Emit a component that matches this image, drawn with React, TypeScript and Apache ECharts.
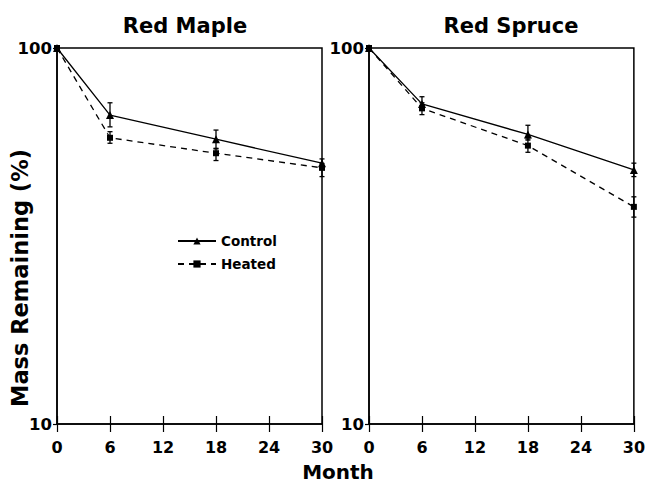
import React, { useEffect, useRef } from "react";
import * as echarts from "echarts";

const months = [0, 6, 18, 30];
const xTicks = [0, 6, 12, 18, 24, 30];
const panelTitles = ["Red Maple", "Red Spruce"];
const seriesNames = ["Control", "Heated"];

const mapleControl = [100, 66.3, 57.2, 49.4];
const mapleControlLow = [100, 61.7, 54.1, 48.0];
const mapleControlHigh = [100, 71.5, 60.5, 50.7];
const mapleHeated = [100, 57.7, 52.5, 48.0];
const mapleHeatedLow = [100, 55.8, 50.2, 45.5];
const mapleHeatedHigh = [100, 59.9, 53.9, 49.3];

const spruceControl = [100, 71.0, 58.9, 47.4];
const spruceControlLow = [100, 68.4, 56.9, 45.5];
const spruceControlHigh = [100, 74.2, 62.3, 49.4];
const spruceHeated = [100, 69.1, 55.0, 37.8];
const spruceHeatedLow = [100, 66.5, 52.8, 35.5];
const spruceHeatedHigh = [100, 71.5, 57.3, 40.2];

const FONT = "DejaVu Sans";

function pairs(vals: number[]) {
  return months.map((m, i) => [m, vals[i]]);
}
function errs(lo: number[], hi: number[]) {
  return months
    .map((m, i) => [m, lo[i], hi[i]])
    .filter((d) => d[1] !== d[2]);
}

const errRender = (params: any, api: any) => {
  const x = api.value(0);
  const p1 = api.coord([x, api.value(1)]);
  const p2 = api.coord([x, api.value(2)]);
  const w = 2.5;
  const st = { stroke: "#000", lineWidth: 1.3 };
  return {
    type: "group",
    children: [
      { type: "line", shape: { x1: p1[0], y1: p1[1], x2: p2[0], y2: p2[1] }, style: st },
      { type: "line", shape: { x1: p1[0] - w, y1: p1[1], x2: p1[0] + w, y2: p1[1] }, style: st },
      { type: "line", shape: { x1: p2[0] - w, y1: p2[1], x2: p2[0] + w, y2: p2[1] }, style: st },
    ],
  };
};

export default function App() {
  const ref = useRef<HTMLDivElement>(null);
  useEffect(() => {
    if (!ref.current) return;
    const chart = echarts.init(ref.current, null, { renderer: "svg" });
    const grids = [
      { left: 57, top: 48, width: 265, height: 376 },
      { left: 369, top: 48, width: 268, height: 376 },
    ];
    const xAxes: any[] = [];
    const yAxes: any[] = [];
    grids.forEach((g, gi) => {
      xAxes.push({
        type: "value",
        gridIndex: gi,
        min: 0,
        max: 30,
        interval: 6,
        axisLine: { show: true, lineStyle: { color: "#000", width: 1.5 } },
        axisTick: { show: true, inside: false, length: 8, lineStyle: { color: "#000", width: 1.2 } },
        axisLabel: {
          show: true,
          margin: 15,
          color: "#000",
          fontFamily: FONT,
          fontWeight: "bold",
          fontSize: 16,
          formatter: (v: number) => (xTicks.includes(v) ? String(v) : ""),
        },
        splitLine: { show: false },
      });
      xAxes.push({
        type: "value",
        gridIndex: gi,
        position: "bottom",
        min: 0,
        max: 30,
        interval: 6,
        axisLine: { show: false },
        axisTick: { show: true, inside: true, length: 8, lineStyle: { color: "#000", width: 1.2 } },
        axisLabel: { show: false },
        splitLine: { show: false },
      });
      yAxes.push({
        type: "log",
        logBase: 10,
        gridIndex: gi,
        min: 10,
        max: 100,
        axisLine: { show: true, lineStyle: { color: "#000", width: 1.5 } },
        axisTick: { show: true, length: 4, lineStyle: { color: "#000", width: 1.2 } },
        minorTick: { show: false },
        axisLabel: {
          margin: 5,
          color: "#000",
          fontFamily: FONT,
          fontWeight: "bold",
          fontSize: 16.5,
        },
        splitLine: { show: false },
      });
    });

    const lineSeries = (name: string, xi: number, yi: number, data: number[], dashed: boolean) => ({
      type: "line",
      name,
      xAxisIndex: xi,
      yAxisIndex: yi,
      data: pairs(data),
      symbol: dashed ? "rect" : "triangle",
      symbolSize: dashed ? 6 : 8,
      itemStyle: { color: "#000" },
      lineStyle: { color: "#000", width: 1.3, type: dashed ? [6, 5] : "solid" },
      z: 3,
    });
    const errSeries = (xi: number, yi: number, lo: number[], hi: number[]) => ({
      type: "custom",
      xAxisIndex: xi,
      yAxisIndex: yi,
      data: errs(lo, hi),
      renderItem: errRender,
      z: 2,
    });

    chart.setOption({
      animation: false,
      backgroundColor: "#fff",
      title: [
        {
          text: panelTitles[0],
          left: 180,
          textAlign: "center",
          top: 10,
          textStyle: { fontFamily: FONT, fontWeight: "bold", fontSize: 21, color: "#000" },
        },
        {
          text: panelTitles[1],
          left: 506,
          textAlign: "center",
          top: 10,
          textStyle: { fontFamily: FONT, fontWeight: "bold", fontSize: 21, color: "#000" },
        },
      ],
      legend: {
        data: seriesNames,
        orient: "vertical",
        left: 172,
        top: 229,
        itemWidth: 38,
        itemHeight: 9,
        itemGap: 9,
        textStyle: { fontFamily: FONT, fontWeight: "bold", fontSize: 13.5, color: "#000" },
      },
      grid: grids.map((g) => ({ ...g, show: true, borderColor: "#000", borderWidth: 1.5, backgroundColor: "transparent" })),
      xAxis: xAxes,
      yAxis: yAxes,
      graphic: [
        {
          type: "text",
          x: 20,
          y: 278,
          rotation: Math.PI / 2,
          style: {
            text: "Mass Remaining (%)",
            fontFamily: FONT,
            fontWeight: "bold",
            fontSize: 22.5,
            fill: "#000",
            align: "center",
            verticalAlign: "middle",
          },
        },
        {
          type: "text",
          x: 338,
          y: 472,
          style: {
            text: "Month",
            fontFamily: FONT,
            fontWeight: "bold",
            fontSize: 20,
            fill: "#000",
            align: "center",
            verticalAlign: "middle",
          },
        },
      ],
      series: [
        lineSeries("Control", 0, 0, mapleControl, false),
        lineSeries("Heated", 0, 0, mapleHeated, true),
        errSeries(0, 0, mapleControlLow, mapleControlHigh),
        errSeries(0, 0, mapleHeatedLow, mapleHeatedHigh),
        lineSeries("Control", 2, 1, spruceControl, false),
        lineSeries("Heated", 2, 1, spruceHeated, true),
        errSeries(2, 1, spruceControlLow, spruceControlHigh),
        errSeries(2, 1, spruceHeatedLow, spruceHeatedHigh),
      ],
    });
    return () => chart.dispose();
  }, []);
  return <div ref={ref} style={{ width: 648, height: 484, position: "absolute", left: 0, top: 0 }} />;
}
